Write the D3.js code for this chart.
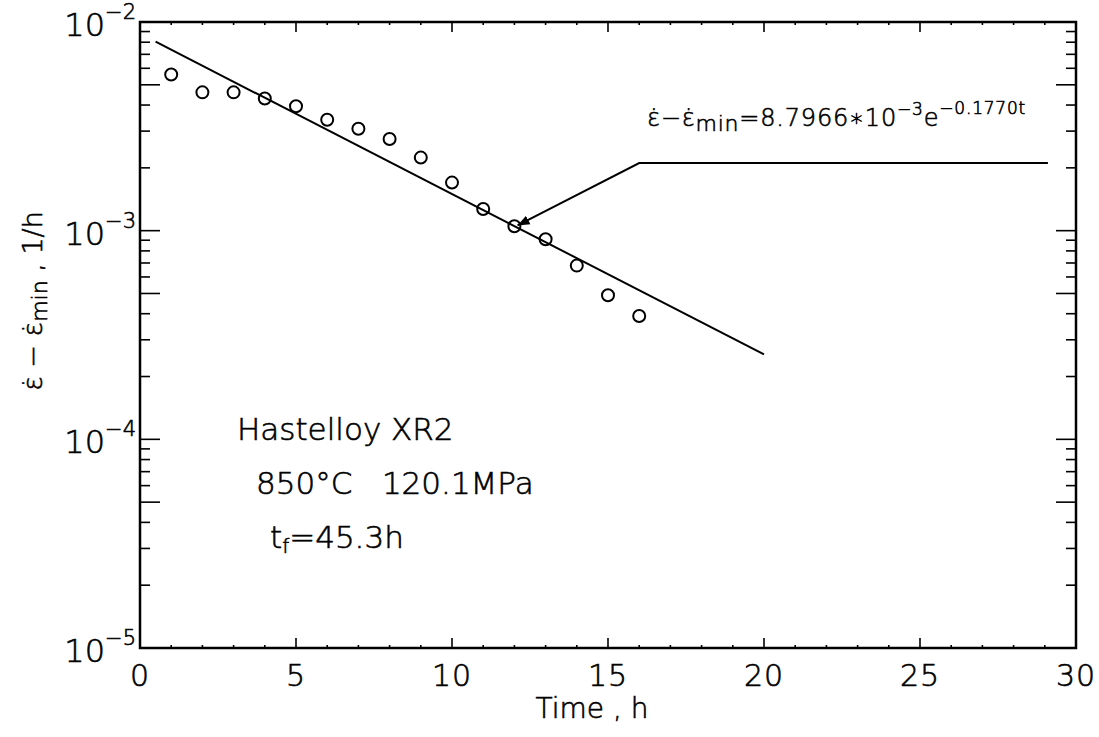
<!DOCTYPE html>
<html>
<head>
<meta charset="utf-8">
<script src="https://cdn.jsdelivr.net/npm/d3@7"></script>
<style>
  body { margin: 0; background: #fff; }
  text { font-family: "DejaVu Sans", sans-serif; font-weight: 200; fill: #000;
         stroke: #000; stroke-width: 0.6px; }
</style>
</head>
<body>
<svg id="chart" width="1099" height="737"></svg>
<script>
// measured creep rate minus minimum rate, 1/h
const times = [1, 2, 3, 4, 5, 6, 7, 8, 9, 10, 11, 12, 13, 14, 15, 16];
const rates = [5.6e-3, 4.6e-3, 4.6e-3, 4.3e-3, 3.95e-3, 3.4e-3, 3.08e-3, 2.75e-3,
               2.24e-3, 1.7e-3, 1.27e-3, 1.05e-3, 9.1e-4, 6.8e-4, 4.9e-4, 3.9e-4];
// fitted line: 8.7966e-3 * exp(-0.1770 t)
const fitA = 8.7966e-3, fitB = 0.1770;
const fitTimes = [0.5, 20];
const xTicks = [0, 5, 10, 15, 20, 25, 30];
const yDecades = [-5, -4, -3, -2];
// leader line for the equation: tip, elbow, end
const leader = [[12.1, 1.06e-3], [16, 2.11e-3], [29.1, 2.11e-3]];

const svg = d3.select('#chart');
const plotL = 140, plotR = 1076, plotT = 22, plotB = 648;
const x = d3.scaleLinear().domain([0, 30]).range([plotL, plotR]);
const y = d3.scaleLog().domain([1e-5, 1e-2]).range([plotB, plotT]);

// frame
svg.append('rect')
    .attr('x', plotL).attr('y', plotT)
    .attr('width', plotR - plotL).attr('height', plotB - plotT)
    .attr('fill', 'none').attr('stroke', '#000').attr('stroke-width', 2.5);

// x ticks (inward, bottom and top)
const xMinor = d3.range(0, 31, 1);
xMinor.forEach(t => {
    let len = t % 5 === 0 ? 10 : 3;
    svg.append('line').attr('x1', x(t)).attr('x2', x(t))
        .attr('y1', plotB).attr('y2', plotB - len)
        .attr('stroke', '#000').attr('stroke-width', 1.6);
    svg.append('line').attr('x1', x(t)).attr('x2', x(t))
        .attr('y1', plotT).attr('y2', plotT + len)
        .attr('stroke', '#000').attr('stroke-width', 1.6);
});

svg.selectAll('.xlab').data(xTicks).enter().append('text')
    .attr('x', d => x(d)).attr('y', plotB + 38)
    .attr('text-anchor', 'middle').attr('font-size', 30)
    .attr('letter-spacing', 1)
    .text(d => d);

// y ticks (inward, left and right)
yDecades.forEach(p => {
    for (let m = 1; m < 10; m++) {
        if (p === -2 && m > 1) break;
        let v = m * Math.pow(10, p);
        let len = (m === 1 || m === 5) ? 20 : 10;
        svg.append('line').attr('x1', plotL).attr('x2', plotL + len)
            .attr('y1', y(v)).attr('y2', y(v))
            .attr('stroke', '#000').attr('stroke-width', 1.6);
        svg.append('line').attr('x1', plotR).attr('x2', plotR - len)
            .attr('y1', y(v)).attr('y2', y(v))
            .attr('stroke', '#000').attr('stroke-width', 1.6);
    }
});

yDecades.forEach(p => {
    let t = svg.append('text')
        .attr('x', plotL - 4).attr('y', y(Math.pow(10, p)) + 14)
        .attr('text-anchor', 'end').attr('font-size', 32);
    t.append('tspan').text('10');
    t.append('tspan').attr('font-size', 21).attr('dy', -17).text('\u2212' + Math.abs(p));
});

// fitted line
let fitPath = d3.path();
fitPath.moveTo(x(fitTimes[0]), y(fitA * Math.exp(-fitB * fitTimes[0])));
fitPath.lineTo(x(fitTimes[1]), y(fitA * Math.exp(-fitB * fitTimes[1])));
svg.append('path').attr('d', fitPath.toString())
    .attr('fill', 'none').attr('stroke', '#000').attr('stroke-width', 2);

// data points
svg.selectAll('.pt').data(times).enter().append('circle')
    .attr('cx', (d) => x(d)).attr('cy', (d, i) => y(rates[i]))
    .attr('r', 6).attr('fill', 'none').attr('stroke', '#000').attr('stroke-width', 2);

// leader line with arrow
svg.append('defs').append('marker')
    .attr('id', 'arrow').attr('viewBox', '0 0 10 10')
    .attr('refX', 10).attr('refY', 5)
    .attr('markerWidth', 6).attr('markerHeight', 6)
    .attr('orient', 'auto-start-reverse')
    .append('path').attr('d', 'M0,1 L10,5 L0,9 Z').attr('fill', '#000');

svg.append('path')
    .attr('d', d3.line().x(d => x(d[0])).y(d => y(d[1]))(leader))
    .attr('fill', 'none').attr('stroke', '#000').attr('stroke-width', 2)
    .attr('marker-start', 'url(#arrow)');

// equation
let eq = svg.append('text').attr('x', 647).attr('y', 126).attr('font-size', 24)
    .attr('letter-spacing', 0.8);
eq.append('tspan').text('\u03b5\u0307\u2212\u03b5\u0307');
eq.append('tspan').attr('font-size', 22).attr('dy', 5).text('min');
eq.append('tspan').attr('dy', -5).text('=8.7966\u221710');
eq.append('tspan').attr('font-size', 17).attr('dy', -11).text('\u22123');
eq.append('tspan').attr('dy', 11).text('e');
eq.append('tspan').attr('font-size', 17).attr('dy', -12).text('\u22120.1770t');

// condition notes
svg.append('text').attr('x', 237).attr('y', 440).attr('font-size', 31).text('Hastelloy XR2');
svg.append('text').attr('x', 256).attr('y', 494).attr('font-size', 31)
    .attr('xml:space', 'preserve').text('850\u00b0C   120.1MPa');
let tf = svg.append('text').attr('x', 270).attr('y', 548).attr('font-size', 31);
tf.append('tspan').text('t');
tf.append('tspan').attr('font-size', 20).attr('dy', 5).text('f');
tf.append('tspan').attr('dy', -5).text('=45.3h');

// axis titles
svg.append('text').attr('x', 592).attr('y', 718)
    .attr('text-anchor', 'middle').attr('font-size', 28)
    .attr('xml:space', 'preserve').text('Time , h');

let yl = svg.append('text')
    .attr('transform', 'translate(42,301) rotate(-90)')
    .attr('text-anchor', 'middle').attr('font-size', 27)
    .attr('xml:space', 'preserve');
yl.append('tspan').text('\u03b5\u0307 \u2212 \u03b5\u0307');
yl.append('tspan').attr('font-size', 22).attr('dy', 5).text('min');
yl.append('tspan').attr('dy', -5).text(' , 1/h');
</script>
</body>
</html>
